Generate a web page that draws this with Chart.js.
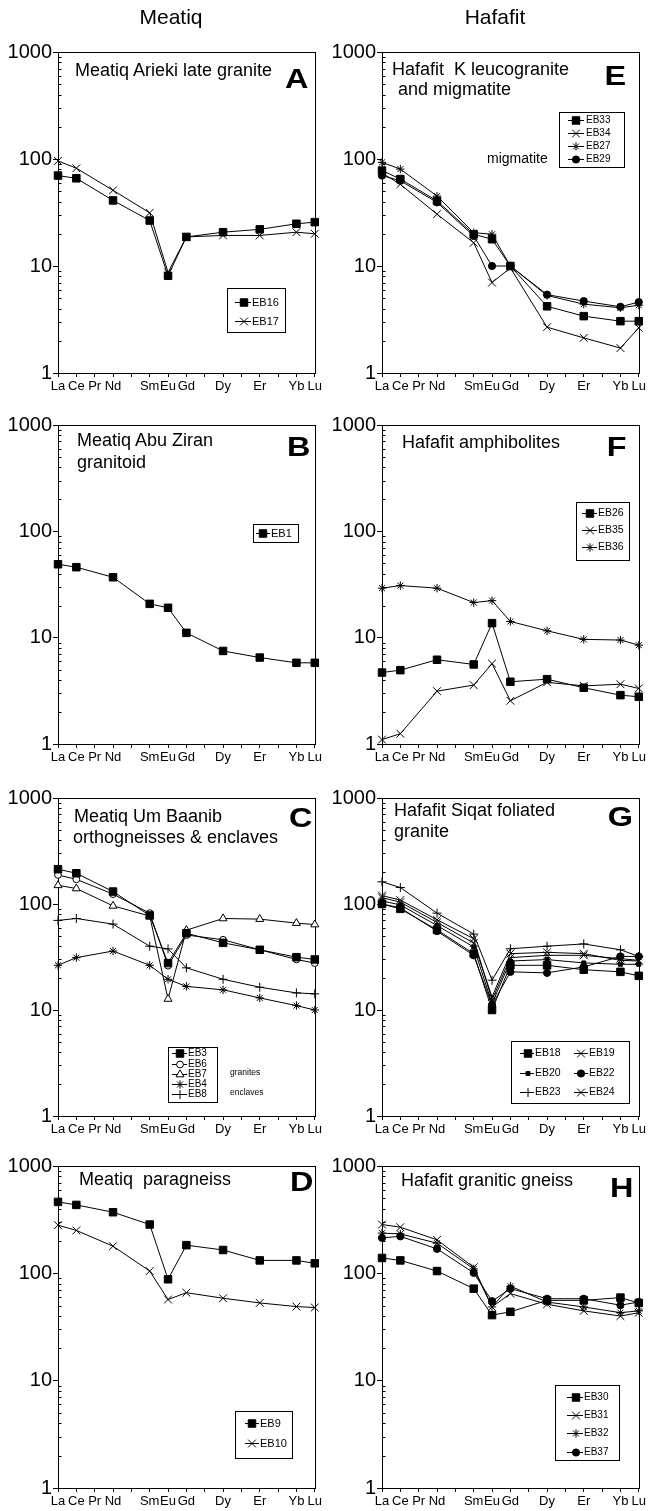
<!DOCTYPE html>
<html>
<head>
<meta charset="utf-8">
<script src="https://cdn.jsdelivr.net/npm/chart.js@4.4.1/dist/chart.umd.min.js"></script>
<style>
  body { margin: 0; background: #fff; }
  #fig { position: relative; width: 648px; height: 1511px; font-family: "Liberation Sans", Arial, sans-serif; overflow: hidden; }
  #fig canvas { position: absolute; }
  .t { position: absolute; white-space: pre; color: #000; z-index: 2; }
</style>
</head>
<body>
<div id="fig"></div>
<script>
// REE elements on the x axis, only some of them are measured / labelled
const elements = ['La', 'Ce', 'Pr', 'Nd', 'Pm', 'Sm', 'Eu', 'Gd', 'Tb', 'Dy', 'Ho', 'Er', 'Tm', 'Yb', 'Lu'];
const tickLabels = ['La', 'Ce', 'Pr', 'Nd', '', 'Sm', 'Eu', 'Gd', '', 'Dy', '', 'Er', '', 'Yb', 'Lu'];
const measured = ['La', 'Ce', 'Nd', 'Sm', 'Eu', 'Gd', 'Dy', 'Er', 'Yb', 'Lu'];
const yTickLabels = [1, 10, 100, 1000];

// A - Meatiq Arieki late granite
const EB16 = [70, 66, 41, 26.6, 8.1, 18.7, 20.7, 22, 24.8, 25.7];
const EB17 = [96, 82, 51, 31.4, 8.7, 18.7, 19.3, 19.3, 20.7, 20];
// B - Meatiq Abu Ziran granitoid
const EB1 = [49, 46, 37, 20.8, 19.1, 11.1, 7.5, 6.5, 5.8, 5.8];
// C - Meatiq Um Baanib
const EB3 = [213, 195, 131, 78, 27.7, 53, 43, 37, 31.5, 30];
const EB6 = [188, 171, 124, 82, 26.2, 51, 46, 37, 30, 27.7];
const EB7 = [150, 140, 96, 77, 12.7, 56.6, 73, 72, 66, 64];
const EB4 = [26.4, 31.2, 36, 26.4, 19.5, 16.7, 15.5, 13, 11, 10];
const EB8 = [70, 73, 64.6, 40, 37.7, 25, 19.5, 16.4, 14.5, 14.2];
// D - Meatiq paragneiss
const EB9 = [463, 434, 371, 285, 88, 183, 165, 132, 132, 124];
const EB10 = [281, 251, 179, 105, 57, 66, 58.6, 53, 49, 48];
// E - Hafafit K leucogranite and migmatite
const EB33 = [78, 65, 40.6, 19.8, 17.8, 10, 4.2, 3.4, 3.05, 3.05];
const EB34 = [74, 58, 30.5, 16.5, 7.0, 9.6, 2.68, 2.13, 1.71, 2.64];
const EB27 = [93, 80.5, 45, 20.5, 19.8, 10, 5.3, 4.4, 4.07, 4.3];
const EB29 = [70, 62.6, 39.3, 19.1, 10, 10, 5.4, 4.7, 4.16, 4.6];
// F - Hafafit amphibolites
const EB26 = [4.7, 4.95, 6.2, 5.6, 13.7, 3.85, 4.07, 3.38, 2.88, 2.78];
const EB35 = [1.1, 1.25, 3.14, 3.58, 5.7, 2.55, 3.8, 3.52, 3.65, 3.33];
const EB36 = [29.2, 30.9, 29.2, 21.4, 22.3, 14.2, 11.6, 9.64, 9.5, 8.5];
// G - Hafafit Siqat foliated granite
const EB18 = [100, 90, 57, 34, 10, 26.4, 26.4, 24, 22.9, 21];
const EB19 = [120, 109, 71, 47, 12.4, 31.2, 32.8, 32.8, 30.5, 29.4];
const EB20 = [107, 98, 62.7, 39.3, 11.5, 29, 29.9, 27.8, 27, 27];
const EB22 = [100, 92, 55.5, 32.8, 11.1, 22.9, 22.4, 25.5, 32, 32];
const EB23 = [162, 143, 82, 52, 19.1, 37.8, 40, 42, 37, 32];
const EB24 = [115, 104, 67, 42.8, 13.3, 34, 35, 34, 29.4, 29];
// H - Hafafit granitic gneiss
const EB30 = [139, 132, 105, 72, 40.8, 43.8, 56, 56, 59.4, 53];
const EB31 = [285, 269, 205, 114, 48.6, 64.7, 51.5, 44.7, 40, 42.9];
const EB32 = [237, 233, 191, 110, 48.6, 76, 54, 48.6, 43, 44.7];
const EB37 = [214, 221, 169, 101, 55, 72, 58, 58, 50.5, 54];

const markerStyles = {
  square: { pointStyle: 'rect', radius: 5.3, fill: '#000' },
  smallSquare: { pointStyle: 'rect', radius: 2.8, fill: '#000' },
  cross: { pointStyle: 'crossRot', radius: 5.5, fill: '#000' },
  star: { pointStyle: 'star', radius: 4.2, fill: '#000' },
  plus: { pointStyle: 'cross', radius: 4.5, fill: '#000' },
  dot: { pointStyle: 'circle', radius: 3.6, fill: '#000' },
  ring: { pointStyle: 'circle', radius: 3.4, fill: '#fff' },
  triangle: { pointStyle: 'triangle', radius: 4.6, fill: '#fff' }
};

const FONT = '"Liberation Sans", Arial, sans-serif';
Chart.defaults.font.family = FONT;
Chart.defaults.color = '#000';

const panels = [
  { col: 0, top: 52, bottom: 373,
    series: [['EB16', EB16, 'square'], ['EB17', EB17, 'cross']],
    titles: [['Meatiq Arieki late granite', 75, 69.5]], letter: ['A', 308, 79.5],
    legend: { box: [227, 288, 285, 332], rows: [302, 321], cols: [{ line: [235, 251], marker: 244, text: 252 }], size: 11 } },
  { col: 0, top: 425, bottom: 744,
    series: [['EB1', EB1, 'square']],
    titles: [['Meatiq Abu Ziran', 77, 440], ['granitoid', 77, 462]], letter: ['B', 310, 447.5],
    legend: { box: [253, 524, 298, 542], rows: [533], cols: [{ line: [256, 270], marker: 263, text: 271 }], size: 11 } },
  { col: 0, top: 798, bottom: 1116,
    series: [['EB3', EB3, 'square'], ['EB6', EB6, 'ring'], ['EB7', EB7, 'triangle'], ['EB4', EB4, 'star'], ['EB8', EB8, 'plus']],
    titles: [['Meatiq Um Baanib', 74, 815.5], ['orthogneisses & enclaves', 73, 837]], letter: ['C', 312, 818],
    notes: [['granites', 230, 1072, 8.5], ['enclaves', 230, 1092, 8.5]],
    legend: { box: [168, 1047, 217, 1102], rows: [1053, 1064, 1074, 1084, 1094], cols: [{ line: [172, 187], marker: 180, text: 188 }], size: 10 } },
  { col: 0, top: 1166, bottom: 1488,
    series: [['EB9', EB9, 'square'], ['EB10', EB10, 'cross']],
    titles: [['Meatiq  paragneiss', 79, 1178.5]], letter: ['D', 313, 1182],
    legend: { box: [235, 1411, 292, 1458], rows: [1423, 1443], cols: [{ line: [245, 259], marker: 252, text: 260 }], size: 11 } },
  { col: 1, top: 52, bottom: 373,
    series: [['EB33', EB33, 'square'], ['EB34', EB34, 'cross'], ['EB27', EB27, 'star'], ['EB29', EB29, 'dot']],
    titles: [['Hafafit  K leucogranite', 392, 69], ['and migmatite', 398, 89]], letter: ['E', 626, 76],
    notes: [['migmatite', 487, 158, 14]],
    legend: { box: [559, 112, 624, 167], rows: [120, 133, 146, 159], cols: [{ line: [568, 584], marker: 576, text: 586 }], size: 10 } },
  { col: 1, top: 425, bottom: 744,
    series: [['EB26', EB26, 'square'], ['EB35', EB35, 'cross'], ['EB36', EB36, 'star']],
    titles: [['Hafafit amphibolites', 402, 442]], letter: ['F', 626, 447],
    legend: { box: [576, 502, 629, 560], rows: [513, 530, 547], cols: [{ line: [582, 597], marker: 590, text: 598 }], size: 10.5 } },
  { col: 1, top: 798, bottom: 1116,
    series: [['EB18', EB18, 'square'], ['EB19', EB19, 'cross'], ['EB20', EB20, 'smallSquare'],
             ['EB22', EB22, 'dot'], ['EB23', EB23, 'plus'], ['EB24', EB24, 'cross']],
    titles: [['Hafafit Siqat foliated', 394, 810], ['granite', 394, 831]], letter: ['G', 633, 817.5],
    legend: { box: [511, 1041, 629, 1103], rows: [1053, 1073, 1092],
              cols: [{ line: [520, 534], marker: 528, text: 535 }, { line: [574, 588], marker: 581, text: 589 }], size: 10.5 } },
  { col: 1, top: 1166, bottom: 1488,
    series: [['EB30', EB30, 'square'], ['EB31', EB31, 'cross'], ['EB32', EB32, 'star'], ['EB37', EB37, 'dot']],
    titles: [['Hafafit granitic gneiss', 401, 1179.5]], letter: ['H', 633, 1188],
    legend: { box: [555, 1385, 619, 1460], rows: [1397, 1415, 1433, 1452], cols: [{ line: [567, 583], marker: 576, text: 584 }], size: 10 } }
];

const fig = document.getElementById('fig');

function addText(str, x, yc, size, opts = {}) {
  const d = document.createElement('div');
  d.className = 't';
  d.textContent = str;
  d.style.fontSize = size + 'px';
  d.style.lineHeight = size + 'px';
  d.style.top = (yc - 0.49 * size) + 'px';
  if (opts.align === 'right') d.style.right = (648 - x) + 'px';
  else if (opts.align === 'center') {
    d.style.left = (x - 100) + 'px'; d.style.width = '200px'; d.style.textAlign = 'center';
  } else d.style.left = x + 'px';
  if (opts.bold) d.style.fontWeight = 'bold';
  if (opts.stretch) { d.style.transform = 'scaleX(' + opts.stretch + ')'; d.style.transformOrigin = 'right center'; }
  fig.appendChild(d);
}

function isDecade(v) {
  const l = Math.log10(v);
  return Math.abs(l - Math.round(l)) < 1e-9;
}

// box round the plot, and the minor log ticks pointing inward
const framePlugin = {
  id: 'frame',
  beforeDatasetsDraw(chart) {
    const a = chart.chartArea, ctx = chart.ctx, y = chart.scales.y;
    ctx.save();
    ctx.strokeStyle = '#000';
    ctx.lineWidth = 1;
    ctx.strokeRect(Math.round(a.left) + 0.5, Math.round(a.top) + 0.5, Math.round(a.right - a.left), Math.round(a.bottom - a.top));
    const lx = Math.round(a.left) + 0.5;
    for (let d = 1; d < 1000; d *= 10) {
      for (let k = 2; k < 10; k++) {
        const py = Math.round(y.getPixelForValue(k * d)) + 0.5;
        ctx.beginPath(); ctx.moveTo(lx, py); ctx.lineTo(lx + 3, py); ctx.stroke();
      }
    }
    ctx.restore();
  }
};

function drawMarker(ctx, ds, x, y) {
  if (Chart.helpers && Chart.helpers.drawPoint) {
    Chart.helpers.drawPoint(ctx, { pointStyle: ds.pointStyle, radius: ds.pointRadius, borderWidth: 1, rotation: 0 }, x, y);
  } else {
    ctx.beginPath(); ctx.arc(x, y, ds.pointRadius, 0, Math.PI * 2); ctx.fill(); ctx.stroke();
  }
}

function makeLegend(cfg, ox, oy) {
  return {
    id: 'boxLegend',
    afterDraw(chart) {
      const ctx = chart.ctx;
      const [x0, y0, x1, y1] = cfg.box;
      ctx.save();
      ctx.fillStyle = '#fff';
      ctx.fillRect(x0 - ox, y0 - oy, x1 - x0, y1 - y0);
      ctx.strokeStyle = '#000';
      ctx.lineWidth = 1;
      ctx.strokeRect(x0 - ox + 0.5, y0 - oy + 0.5, x1 - x0, y1 - y0);
      ctx.font = cfg.size + 'px ' + FONT;
      ctx.textBaseline = 'middle';
      chart.data.datasets.forEach((ds, i) => {
        const c = cfg.cols[i % cfg.cols.length];
        const y = cfg.rows[Math.floor(i / cfg.cols.length)] - oy + 0.5;
        ctx.strokeStyle = '#000';
        ctx.beginPath(); ctx.moveTo(c.line[0] - ox, y); ctx.lineTo(c.line[1] - ox, y); ctx.stroke();
        ctx.fillStyle = ds.pointBackgroundColor;
        drawMarker(ctx, ds, c.marker - ox, y);
        ctx.fillStyle = '#000';
        ctx.fillText(ds.label, c.text - ox, y);
      });
      ctx.restore();
    }
  };
}

function makePanel(p) {
  const colX = p.col * 324;
  const plotL = p.col ? 382 : 58;
  const plotR = p.col ? 639 : 316;
  const padTop = 25, xAxisH = 28;
  const cv = document.createElement('canvas');
  cv.width = 324;
  cv.height = p.bottom - p.top + padTop + xAxisH;
  cv.style.left = colX + 'px';
  cv.style.top = (p.top - padTop) + 'px';
  fig.appendChild(cv);

  const datasets = p.series.map(([name, values, mk]) => {
    const m = markerStyles[mk];
    return {
      label: name,
      data: measured.map((el, i) => ({ x: el, y: values[i] })),
      borderColor: '#000',
      borderWidth: 1,
      pointStyle: m.pointStyle,
      pointRadius: m.radius,
      pointBackgroundColor: m.fill,
      pointBorderColor: '#000',
      pointBorderWidth: 1,
      fill: false,
      tension: 0
    };
  });

  new Chart(cv.getContext('2d'), {
    type: 'line',
    data: { labels: elements, datasets: datasets },
    options: {
      responsive: false,
      animation: false,
      devicePixelRatio: 1,
      layout: { autoPadding: false, padding: { top: padTop, right: colX + 324 - plotR, left: 0, bottom: 0 } },
      plugins: { legend: { display: false }, tooltip: { enabled: false } },
      scales: {
        x: {
          type: 'category',
          offset: false,
          grid: { display: true, drawOnChartArea: false, drawTicks: true, tickLength: 4, color: '#000' },
          border: { color: '#000', width: 1 },
          ticks: {
            autoSkip: false, maxRotation: 0, minRotation: 0, padding: 2, color: '#000',
            font: { size: 13 },
            callback: (v, i) => tickLabels[i]
          },
          afterFit: s => { s.height = xAxisH; }
        },
        y: {
          type: 'logarithmic',
          min: 1,
          max: 1000,
          grid: {
            drawOnChartArea: false, drawTicks: true, tickLength: 5,
            color: c => (c.tick && isDecade(c.tick.value)) ? '#000' : 'rgba(0,0,0,0)'
          },
          border: { color: '#000', width: 1 },
          ticks: {
            autoSkip: false, padding: 1, color: '#000',
            font: { size: 20 },
            callback: v => (yTickLabels.includes(Math.round(v)) && isDecade(v)) ? String(Math.round(v)) : ''
          },
          afterFit: s => { s.width = plotL - colX; }
        }
      }
    },
    plugins: [framePlugin, makeLegend(p.legend, colX, p.top - padTop)]
  });

  p.titles.forEach(([txt, x, y]) => addText(txt, x, y, 18));
  addText(p.letter[0], p.letter[1], p.letter[2], 27, { align: 'right', bold: true, stretch: 1.2 });
  (p.notes || []).forEach(([txt, x, y, s]) => addText(txt, x, y, s));
}

panels.forEach(makePanel);

addText('Meatiq', 171, 16, 21, { align: 'center' });
addText('Hafafit', 495, 16, 21, { align: 'center' });
</script>
</body>
</html>
